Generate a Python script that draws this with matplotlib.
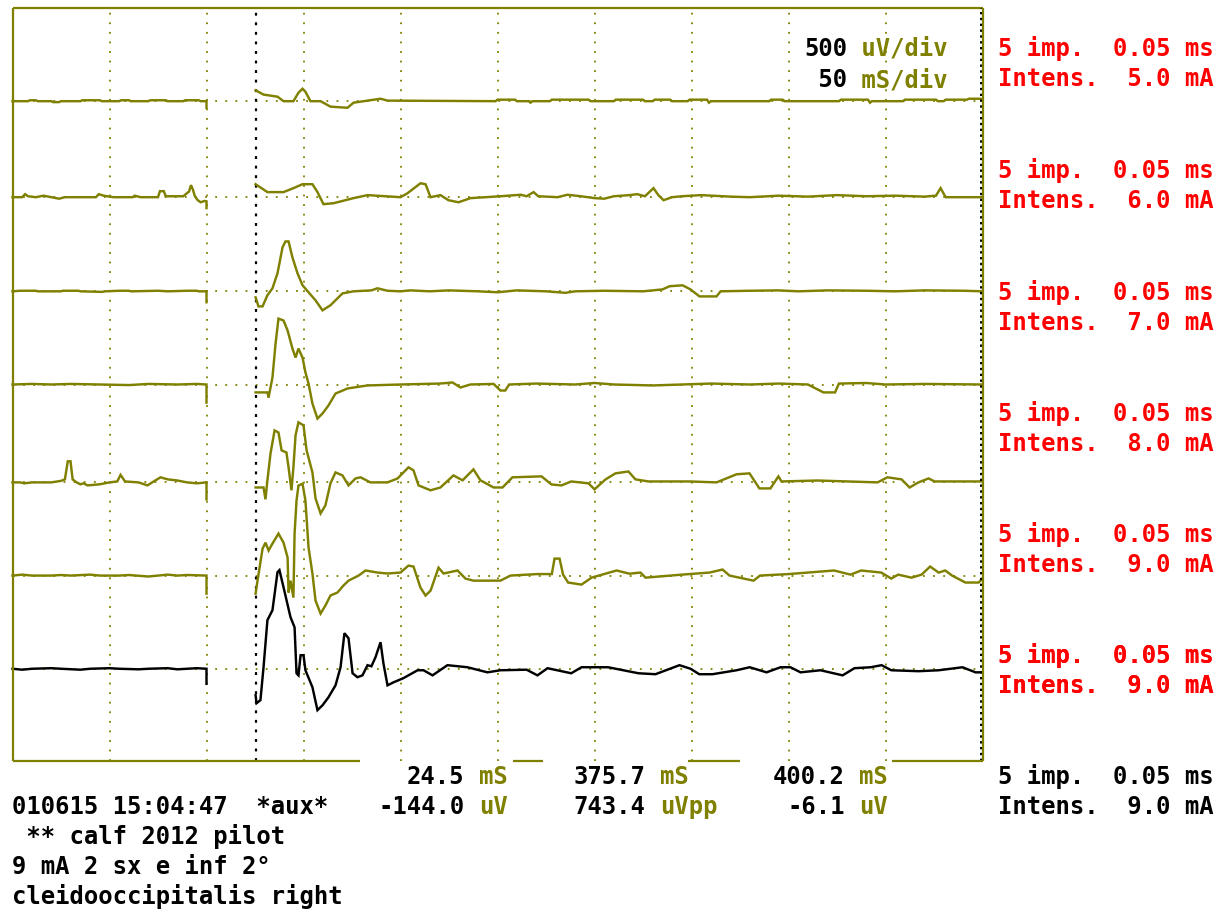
import matplotlib
matplotlib.use("Agg")
import matplotlib.pyplot as plt
from matplotlib.font_manager import FontProperties

W, H, DPI = 1226, 913, 100
OLIVE = "#808000"
RED = "#ff0000"

# ---- scales: 50 ms/div (10 div), 500 uV/div (8 div)
time_range = [0, 500]
amp_range = [0, 4000]
grid_times = [50, 100, 150, 200, 250, 300, 350, 400, 450]
stim_time = 125.3
baselines = [3505, 2995, 2495, 2000, 1480, 985, 490]
trace_colors = [OLIVE] * 6 + ["black"]
intensities = ["5.0", "6.0", "7.0", "8.0", "9.0", "9.0", "9.0"]

# ---- traces: (time ms, amplitude uV relative to baseline)
trace1_pre = [(0, 0), (8, 0), (9, 5), (12, 5), (13, 0), (20, 0), (21, -5), (24, -5), (25, 0), (35, 0), (36, 5), (45, 5),
              (46, 0), (55, 0), (56, 5), (60, 5), (61, 0), (70, 0), (71, 5), (79, 5), (80, 0), (88, 0), (89, 5), (96, 5),
              (97, 0), (100, 0), (100, -35)]
trace1_post = [(125.3, 58), (129.4, 35), (136.6, 24), (139.7, 0), (144.8, 0), (147.4, 45), (149.5, 66), (151.0, 50),
               (153.6, 0), (158.8, 0), (163.9, -29), (172.7, -35), (175.8, -8), (183.0, 3), (189.7, 13), (193.3, 3),
               (249, 0), (250, 8), (259, 8), (260, 0), (266, 0), (267, -8), (268, 0), (277, 0), (278, 8), (297, 8),
               (298, 0), (310, 0), (311, 8), (325, 8), (326, 0), (330, 0), (331, 8), (339, 8), (340, 0), (348, 0),
               (349, 8), (358, 8), (359, -8), (360, 0), (390, 0), (391, 8), (397, 8), (398, 0), (426, 0), (427, 8),
               (441, 8), (442, -8), (443, 0), (459, 0), (460, 8), (476, 8), (477, 0), (480, 0), (481, 8), (492, 8),
               (493, 13), (499, 13), (500, 3)]

trace2_pre = [(0, 0), (5, 0), (6.5, 16), (8, 5), (12, 0), (16, 8), (20, 0), (24, -8), (27, 0), (43, 0), (44.5, 16),
              (47, 8), (52, 0), (62, 0), (63, 8), (66, 0), (75, 0), (76, 32), (78, 32), (79, 5), (88, 5), (91, 30),
              (92, 64), (93, 40), (94, 5), (95.5, -16), (97, -27), (99, -20), (100, -22), (100, -58)]
trace2_post = [(125.3, 69), (131.4, 27), (139.7, 27), (144.8, 48), (149.5, 69), (154.6, 69), (157.2, 27),
               (160.3, -37), (165.5, -32), (175.8, -5), (183.0, 11), (200.0, 0), (203.6, 21), (210.3, 74),
               (212.9, 69), (215.5, 0), (220.6, 11), (224.7, -16), (229.9, -27), (236.1, -5), (251.5, 5), (262, 13),
               (265, 5), (268.6, 27), (271, 5), (281, 0), (286, 13), (293, 5), (300, -5), (305, -8), (310, 5),
               (318, 11), (322, 16), (326, 5), (330.4, 48), (333, 10), (335.6, -16), (340, 0), (345, 5), (355, 11),
               (370, 3), (380, 0), (395, 8), (410, 3), (425, 11), (440, 5), (455, 8), (470, 3), (476, 8),
               (478.4, 48), (481, 0), (500, 0)]

trace3_pre = [(0, 0), (4, 3), (12, 3), (13, 0), (25, 0), (26, 3), (34, 3), (35, 0), (46, -3), (48, 0), (55, 3),
              (60, 3), (61, 0), (75, 3), (80, 0), (90, 3), (95, 3), (96, 0), (100, 0), (100, -58)]
trace3_post = [(125.3, -32), (126.8, -80), (128.9, -80), (131.4, -21), (134.0, 16), (136.6, 96), (139.2, 234),
               (140.7, 265), (142.3, 265), (144.3, 180), (146.9, 96), (149.5, 32), (152.6, -5), (156.2, -48),
               (159.8, -101), (163.9, -74), (170.1, -11), (175.8, 0), (185, 5), (188.1, 16), (193.3, 3), (200, 0),
               (205, 5), (215, 0), (225, 5), (240, 0), (250, -5), (260, 5), (275, 0), (285, -8), (290, 0), (305, 3),
               (325, 0), (335, 10), (338.7, 27), (345.4, 32), (349.5, 10), (354.1, -27), (362.9, -27), (365, 0),
               (380, 3), (395, 5), (405, 0), (420, 5), (440, 3), (455, 0), (470, 5), (490, 3), (500, 0)]

trace4_pre = [(0, 0), (10, 3), (20, 0), (30, 3), (45, 0), (60, -3), (70, 3), (85, 0), (95, 3), (100, 0), (100, -96)]
trace4_post = [(125.3, -42), (131.4, -42), (132.0, -69), (134.0, 37), (135.6, 218), (137.1, 350), (139.7, 340),
               (141.8, 287), (144.3, 191), (145.9, 143), (147.4, 191), (149.5, 143), (151.0, 64), (152.6, 5),
               (154.6, -101), (157.2, -181), (159.8, -154), (162.9, -111), (166.5, -48), (172.7, -21), (183, -5),
               (200, 0), (220, 5), (224, 8), (226.8, 11), (230.9, -16), (236, 0), (248, 3), (251.5, -32),
               (254, -32), (256, 0), (270, 5), (290, 0), (300, 8), (310, 0), (330, -5), (345, 0), (360, 5), (380, 0),
               (395, 5), (410, 0), (418, -42), (424, -42), (426, 5), (440, 8), (450, 0), (470, 3), (500, 0)]

trace5_pre = [(0, 0), (4, 0), (6, -5), (10, 0), (20, 0), (25, 8), (27, 16), (28.5, 112), (29.9, 112), (31, 16),
              (33, 0), (35, -10), (36.6, -5), (38.7, -16), (45, -10), (50, 0), (54, 5), (55.7, 40), (58, 5), (65, 0),
              (69.6, -16), (72, 0), (76.3, 27), (80, 16), (85, 10), (90, 0), (95, -5), (100, 0), (100, -90)]
trace5_post = [(125.3, -27), (129.4, -27), (130.4, -90), (131.4, 11), (133.0, 154), (135.1, 276), (137.1, 265),
               (138.7, 170), (141.2, 159), (142.3, 80), (143.8, -42), (144.8, 80), (145.9, 250), (147.4, 319),
               (150.0, 303), (151.6, 170), (154.6, 53), (156.2, -85), (158.8, -165), (161.3, -122), (163.9, -5),
               (166.5, 53), (170.1, 37), (173.2, -16), (176.8, 21), (179.4, 27), (184.5, 0), (193.3, 0),
               (198.5, 21), (204.1, 80), (206.7, 64), (209.3, -16), (215.5, -42), (220.6, -27), (227.3, 37),
               (232.0, 11), (237.6, 69), (241.2, 11), (248, -27), (252.6, -27), (257.7, 27), (272.7, 32),
               (277.8, -11), (283, -16), (288, 5), (296.9, -5), (300, -37), (305.7, 16), (310.8, 48), (317.5, 58),
               (321.1, 16), (327.8, 5), (349, 5), (362.9, 0), (373.2, 43), (379.9, 48), (385, -32), (390.7, -32),
               (394.8, 32), (396.4, 5), (415, 10), (445.9, 0), (451, 27), (458.3, 16), (462.4, -27), (467, 0),
               (472.2, 21), (475.3, 5), (500, 5)]

trace6_pre = [(0, 0), (5, 5), (10, 0), (20, 0), (25, 3), (30, 0), (40, 5), (45, 0), (55, 0), (60, 3), (70, -5),
              (75, 0), (80, 5), (85, 0), (90, 3), (100, 0), (100, -96)]
trace6_post = [(125.3, -96), (126.3, -27), (128.9, 143), (130.4, 175), (132.0, 133), (134.0, 170), (137.1, 223),
               (139.7, 175), (141.8, 96), (142.3, -90), (143.3, -27), (144.8, -117), (145.4, 223), (146.4, 398),
               (147.4, 478), (149.5, 488), (151.0, 398), (152.6, 149), (154.6, 11), (156.2, -133), (158.8, -202),
               (161.3, -159), (163.9, -106), (167.5, -90), (170.6, -53), (173.2, -27), (178.4, 0), (182.0, 27),
               (188.1, 16), (193.3, 11), (200.0, 16), (204.1, 53), (206.7, 48), (210.3, -64), (212.9, -106),
               (215.5, -80), (219.6, 42), (222.2, 11), (229.4, 27), (233.5, -16), (237.6, -27), (251.5, -27),
               (256.7, 0), (270.6, 8), (278, 8), (279.4, 90), (282, 90), (283.8, 5), (286.4, -37), (293.3, -48),
               (298.5, -11), (311.4, 27), (318, 10), (323.7, 16), (326.3, -11), (345, 5), (359.3, 16), (366, 32),
               (369.6, 0), (382, -27), (385.3, 0), (400, 8), (423.5, 27), (432, 5), (437.4, 27), (447.8, 16),
               (453, -16), (456.5, 5), (463.4, -11), (468.6, 5), (473, 48), (477.4, 16), (480.8, 27), (484.3, 0),
               (491.2, -37), (498, -37), (500, -16)]

trace7_pre = [(0, 0), (5, -5), (10, 0), (20, 3), (25, 0), (35, -5), (40, 0), (50, 3), (55, 0), (65, -3), (70, 0),
              (80, 3), (85, -3), (90, 0), (95, 3), (100, 0), (100, -80)]
trace7_post = [(125.3, -141), (125.8, -183), (127.8, -167), (129.4, 8), (131.4, 258), (134.0, 311), (136.6, 513),
               (137.6, 524), (139.7, 433), (143.3, 274), (145.4, 220), (146.4, -24), (147.4, -35), (148.5, 72),
               (150.0, 72), (151.0, -8), (154.6, -98), (157.2, -220), (159.8, -194), (162.9, -151), (166.5, -88),
               (169.1, 8), (171.1, 189), (173.2, 162), (175.3, -24), (177.8, -45), (180.4, -35), (183.0, 19),
               (185.0, 13), (187.1, 61), (189.7, 141), (191.2, 29), (193.3, -88), (196.4, -72), (201.5, -50),
               (208.8, -8), (211.9, -8), (216.5, -35), (224.2, 19), (234.5, 8), (244.8, -19), (251.5, -8),
               (265, -5), (270.6, -35), (275.8, 3), (288, -24), (293.3, 8), (307, 8), (322.7, -24), (331.4, -29),
               (343.8, 19), (349.5, 0), (354, -29), (360.8, -29), (373.2, -8), (380, 8), (388.7, -19), (395.9, 8),
               (401, 8), (406.2, -19), (416.5, -8), (427.9, -35), (434, 3), (442.3, 8), (448, 19), (453, -8),
               (467, -13), (477.4, -8), (489.7, 8), (496.4, -19), (500, -19)]

traces_pre = [trace1_pre, trace2_pre, trace3_pre, trace4_pre, trace5_pre, trace6_pre, trace7_pre]
traces_post = [trace1_post, trace2_post, trace3_post, trace4_post, trace5_post, trace6_post, trace7_post]

# ---- text content
scale_lines = [("500", " uV/div"), ("50", " mS/div")]
cursor_times = ["24.5", "375.7", "400.2"]
cursor_amps = ["-144.0", "743.4", "-6.1"]
cursor_amp_units = ["uV", "uVpp", "uV"]
header_line = "010615 15:04:47  *aux*"
info_lines = [" ** calf 2012 pilot", "9 mA 2 sx e inf 2°", "cleidooccipitalis right"]

# ---- figure
fig = plt.figure(figsize=(W / DPI, H / DPI), dpi=DPI)
fig.patch.set_facecolor("white")
ax_left, ax_right, ax_top, ax_bottom = 12.5, 982.5, 8, 761
ax = fig.add_axes([ax_left / W, 1 - ax_bottom / H, (ax_right - ax_left) / W, (ax_bottom - ax_top) / H])
ax.set_xlim(*time_range)
ax.set_ylim(*amp_range)
ax.axis("off")

for gt in grid_times:
    ax.plot([gt, gt], amp_range, color=OLIVE, lw=1.3, ls=(0, (1, 4.3)), zorder=1)
for b in baselines:
    ax.plot(time_range, [b, b], color=OLIVE, lw=1.3, ls=(0, (1, 4.6)), zorder=1)
ax.plot([stim_time, stim_time], amp_range, color="black", lw=1.6, ls=(0, (1.3, 3.0)), zorder=2)

for b, col, pre, post in zip(baselines, trace_colors, traces_pre, traces_post):
    for seg in (pre, post):
        ts = [p[0] for p in seg]
        vs = [b + p[1] for p in seg]
        ax.plot(ts, vs, color=col, lw=1.75, zorder=3, solid_joinstyle="miter", clip_on=False)

# frame
fkw = dict(color=OLIVE, lw=1.6, clip_on=False, zorder=4, solid_capstyle="butt")
ax.plot([0, 0], amp_range, **fkw)
ax.plot(time_range, [amp_range[1]] * 2, **fkw)
ax.plot([time_range[1]] * 2, amp_range, **fkw)
ax.plot([499.0, 499.0], amp_range, color="black", lw=1.4, ls=(0, (1.2, 1.8)), clip_on=False, zorder=4)
for x0, x1 in [(0, 178.9), (258.2, 273.2), (348.4, 375.2), (453.5, 500)]:
    ax.plot([x0, x1], [0, 0], **fkw)

# text
FS = 17.2
fp = FontProperties(family="DejaVu Sans Mono", weight="bold", size=FS)
CW = FS * 0.602 * DPI / 72.0


def put(x_px, y_base_px, parts, anchor="left"):
    n = sum(len(s) for s, _ in parts)
    x = x_px - n * CW if anchor == "right" else x_px
    for s, c in parts:
        fig.text(x / W, 1 - y_base_px / H, s, color=c, fontproperties=fp, ha="left", va="baseline")
        x += len(s) * CW


# scale box (top right inside frame)
put(948, 56, [(scale_lines[0][0], "black"), (scale_lines[0][1], OLIVE)], anchor="right")
put(948, 87, [(" " + scale_lines[1][0], "black"), (scale_lines[1][1], OLIVE)], anchor="right")

# stimulus panels (one per trace)
panel_rows = [48, 170, 292, 413, 534, 655, 655]
for yc, inten in zip(panel_rows, intensities):
    put(998, yc + 8, [("5 imp.  0.05 ms", RED)])
    put(998, yc + 38, [("Intens.  %s mA" % inten, RED)])
# summary (black)
put(998, 784, [("5 imp.  0.05 ms", "black")])
put(998, 814, [("Intens.  9.0 mA", "black")])

# cursor readouts
unit_x = [479, 660, 859]
for ux, tv, av, au in zip(unit_x, cursor_times, cursor_amps, cursor_amp_units):
    put(ux - CW, 784, [(tv, "black")], anchor="right")
    put(ux, 784, [("mS", OLIVE)])
    put(ux - CW, 814, [(av, "black")], anchor="right")
    put(ux, 814, [(au, OLIVE)])

put(12, 814, [(header_line, "black")])
for k, line in enumerate(info_lines):
    put(12, 844 + 30 * k, [(line, "black")])

fig.savefig("out.png", dpi=DPI, facecolor="white")
